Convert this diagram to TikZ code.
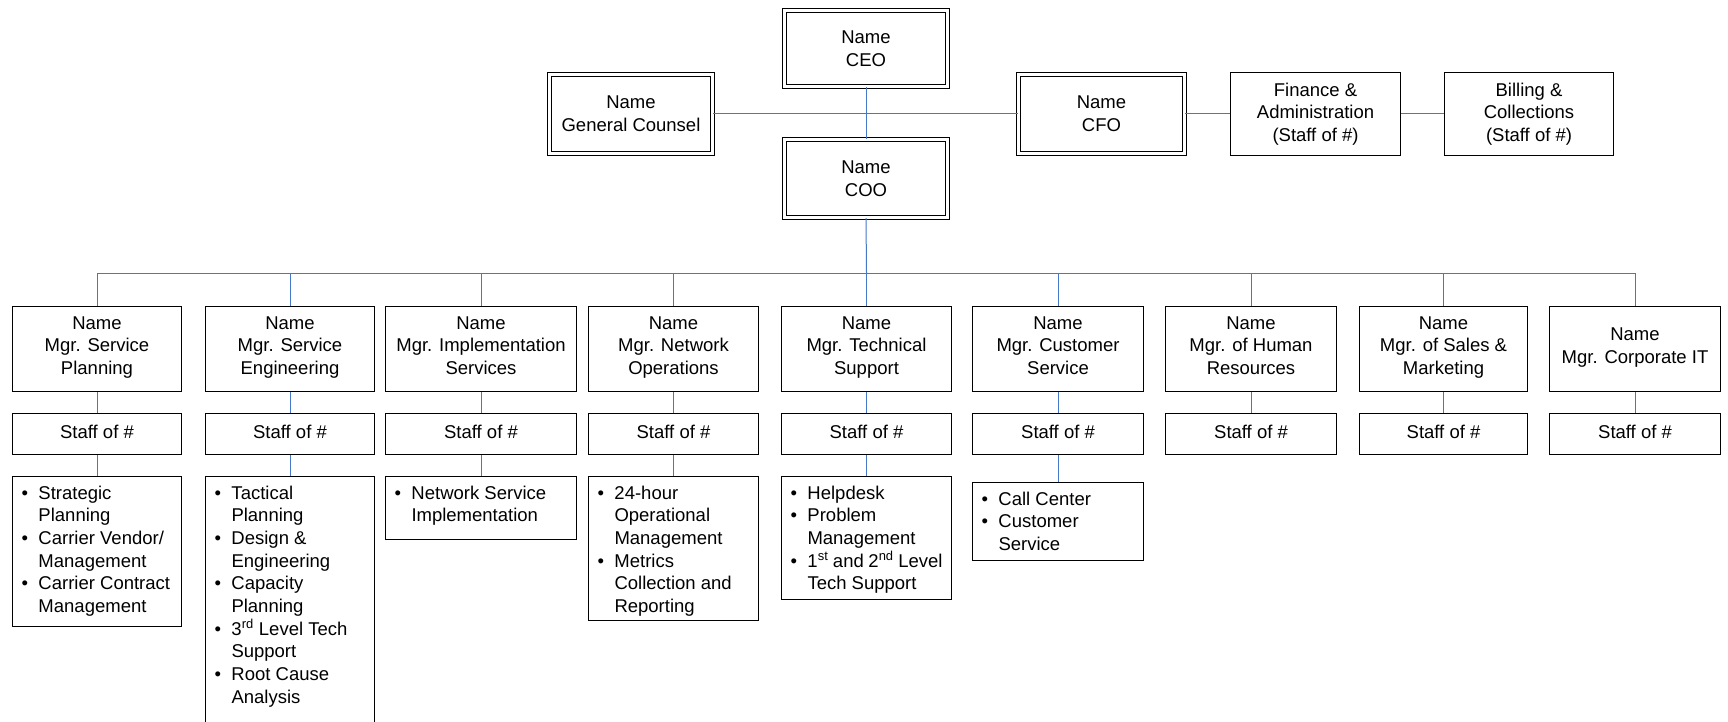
\documentclass[tikz,border=0pt]{standalone}
\usepackage{fontspec}
\setmainfont{Liberation Sans}
\definecolor{linkblue}{RGB}{70,120,200}
\newcommand{\bitem}[1]{\par\noindent\hskip-17pt\hbox to 17pt{\textbullet\hfil}#1}
\newcommand{\dtext}[3]{\parbox[c][#2pt][t]{#1pt}{\raggedright\leftskip=17pt\relax #3}}
\begin{document}
\begin{tikzpicture}[x=1pt,y=-1pt,
  topbox/.style={draw, line width=1.3pt, inner sep=0pt, align=center,
    font=\fontsize{18.5}{22.7}\selectfont},
  box/.style={topbox, execute at end node={\strut}},
  dbl/.style={topbox, double, double distance=2.5pt},
  detail/.style={draw, line width=1.3pt, inner xsep=9pt, inner ysep=9pt, anchor=north,
    font=\fontsize{18.5}{22.7}\selectfont},
  conn/.style={draw=linkblue, line width=1pt}]
\useasboundingbox (0,0) rectangle (1728,722);
\clip (0,0) rectangle (1728,722);
\fill[white] (0,0) rectangle (1728,722);

% top level
\node[dbl, minimum width=162.9pt, minimum height=75.9pt] (ceo) at (866,48.5) {Name\\CEO};
\node[dbl, minimum width=162.9pt, minimum height=78.9pt] (gc) at (631,114) {Name\\General Counsel};
\node[dbl, minimum width=162.9pt, minimum height=77.9pt] (coo) at (866,178.5) {Name\\COO};
\node[dbl, minimum width=165.9pt, minimum height=78.9pt] (cfo) at (1101.5,114) {Name\\CFO};
\node[topbox, minimum width=170pt, minimum height=83pt] (fin) at (1315.5,114) {Finance \&\\Administration\\(Staff of \#)};
\node[topbox, minimum width=169pt, minimum height=83pt] (bill) at (1529,114) {Billing \&\\Collections\\(Staff of \#)};

\draw[conn] (gc.east) -- (cfo.west);
\draw[conn] (ceo.south) -- (coo.north);
\draw[conn] (cfo.east) -- (fin.west);
\draw[conn] (fin.east) -- (bill.west);

% managers
\node[box, minimum width=169pt, minimum height=85pt] (m1) at (97,349) {Name\\Mgr. Service\\Planning};
\node[box, minimum width=169pt, minimum height=85pt] (m2) at (290,349) {Name\\Mgr. Service\\Engineering};
\node[box, minimum width=191pt, minimum height=85pt] (m3) at (481,349) {Name\\Mgr. Implementation\\Services};
\node[box, minimum width=170pt, minimum height=85pt] (m4) at (673.5,349) {Name\\Mgr. Network\\Operations};
\node[box, minimum width=170pt, minimum height=85pt] (m5) at (866.5,349) {Name\\Mgr. Technical\\Support};
\node[box, minimum width=171pt, minimum height=85pt] (m6) at (1058,349) {Name\\Mgr. Customer\\Service};
\node[box, minimum width=171pt, minimum height=85pt] (m7) at (1251,349) {Name\\Mgr. of Human\\Resources};
\node[box, minimum width=168pt, minimum height=85pt] (m8) at (1443.5,349) {Name\\Mgr. of Sales \&\\Marketing};
\node[box, minimum width=171pt, minimum height=85pt] (m9) at (1635,349) {Name\\Mgr. Corporate IT};

\coordinate (bus) at (866.5,273);
\draw[conn] (coo.south) -- (bus);
\foreach \i in {1,...,9} {
  \draw[conn] (bus) -| (m\i.north);
}

% staff
\foreach \i/\w in {1/169,2/169,3/191,4/170,5/170,6/171,7/171,8/168,9/171} {
  \node[box, minimum width=\w pt, minimum height=41pt] (s\i) at (m\i.center |- 0,434) {Staff of \#};
  \draw[conn] (m\i.south) -- (s\i.north);
}

% details
\node[detail] (d1) at (97,476) {\dtext{151}{132}{%
  \bitem{Strategic\\Planning}\bitem{Carrier Vendor/\\Management}\bitem{Carrier Contract\\Management}}};
\node[detail] (d2) at (290,476) {\dtext{151}{234}{%
  \bitem{Tactical\\Planning}\bitem{Design \&\\Engineering}\bitem{Capacity\\Planning}%
  \bitem{3\textsuperscript{rd} Level Tech\\Support}\bitem{Root Cause\\Analysis}}};
\node[detail] (d3) at (481,476) {\dtext{173}{45}{%
  \bitem{Network Service\\Implementation}}};
\node[detail] (d4) at (673.5,476) {\dtext{152}{126}{%
  \bitem{24-hour\\Operational\\Management}\bitem{Metrics\\Collection and\\Reporting}}};
\node[detail] (d5) at (866.5,476) {\dtext{152}{105}{%
  \bitem{Helpdesk}\bitem{Problem\\Management}\bitem{1\textsuperscript{st} and 2\textsuperscript{nd} Level\\Tech Support}}};
\node[detail] (d6) at (1058,482) {\dtext{153}{60}{%
  \bitem{Call Center}\bitem{Customer\\Service}}};

\foreach \i in {1,...,6} {
  \draw[conn] (s\i.south) -- (d\i.north);
}
\end{tikzpicture}
\end{document}
